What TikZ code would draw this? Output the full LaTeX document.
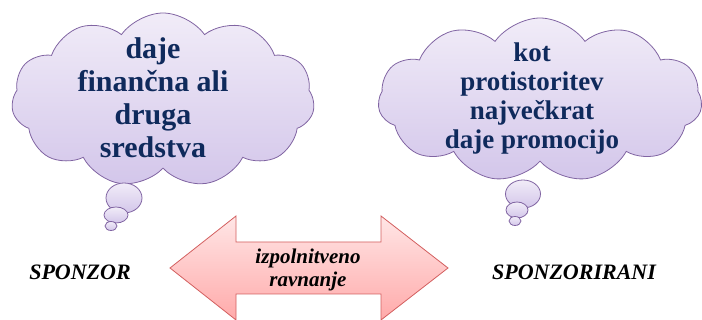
\documentclass[tikz,border=0pt]{standalone}
\usepackage{xcolor}
\usepackage{fontspec}
\setmainfont{Liberation Serif}
\usetikzlibrary{shapes,positioning}

\definecolor{navy}{HTML}{0F2A5C}
\definecolor{cloudline}{HTML}{8064A2}
\definecolor{cloudtop}{HTML}{F1ECF8}
\definecolor{cloudbot}{HTML}{D3C6EA}
\definecolor{arrowline}{HTML}{D35F5F}
\definecolor{arrowtop}{HTML}{FFE6E6}
\definecolor{arrowbot}{HTML}{FFAAAA}

\begin{document}
\begin{tikzpicture}[
  x=1pt, y=1pt,
  cloudbox/.style={cloud, cloud puffs=11, cloud puff arc=110, aspect=1.7,
                   draw=cloudline, line width=0.8pt, inner sep=0pt,
                   top color=cloudtop, bottom color=cloudbot},
  bubble/.style={ellipse, draw=cloudline, line width=0.8pt, inner sep=0pt,
                 top color=cloudtop, bottom color=cloudbot},
  thought/.style={text=navy, align=center, inner sep=0pt},
  party/.style={inner sep=0pt, font=\bfseries\itshape\fontsize{22}{26}\selectfont},
  arrowbox/.style={draw=arrowline, line width=0.8pt, line join=miter,
                   top color=arrowtop, bottom color=arrowbot}
]
\useasboundingbox (0,0) rectangle (702,320);

% --- Clouds ---
\node[cloudbox, minimum width=303pt, minimum height=174pt] (CLOUDL) at (163,220) {};
\node[cloudbox, minimum width=324pt, minimum height=164pt] (CLOUDR) at (540,220) {};

\node[thought, font=\bfseries\fontsize{30}{33}\selectfont] (GIVES) at (153,222)
  {daje\\finančna ali\\druga\\sredstva};
\node[thought, font=\bfseries\fontsize{27}{29}\selectfont] (RETURNS) at (532,221)
  {kot\\protistoritev\\največkrat\\daje promocijo};

% --- Thought bubbles ---
\node[bubble, minimum width=36pt, minimum height=30pt] (LB1) at (124,122) {};
\node[bubble, minimum width=24pt, minimum height=16pt] (LB2) at (116,105) {};
\node[bubble, minimum width=12pt, minimum height=9pt]  (LB3) at (111,94)  {};
\node[bubble, minimum width=35pt, minimum height=28pt] (RB1) at (523,126) {};
\node[bubble, minimum width=22pt, minimum height=16pt] (RB2) at (517,110) {};
\node[bubble, minimum width=12pt, minimum height=9pt]  (RB3) at (515,99)  {};

% --- Double arrow ---
\path[arrowbox] (170,52) -- (236,104) -- (236,78) -- (381,78) -- (381,104)
  -- (448,52) -- (381,0) -- (381,26) -- (236,26) -- (236,0) -- cycle;
\node[align=center, inner sep=0pt, font=\bfseries\itshape\fontsize{21}{23}\selectfont] (DEAL) at (308,50)
  {izpolnitveno\\ravnanje};

% --- Parties ---
\node[party] (SPONZOR) at (80,48) {SPONZOR};
\node[party] (SPONZORIRANI) at (574,48) {SPONZORIRANI};

\end{tikzpicture}
\end{document}
